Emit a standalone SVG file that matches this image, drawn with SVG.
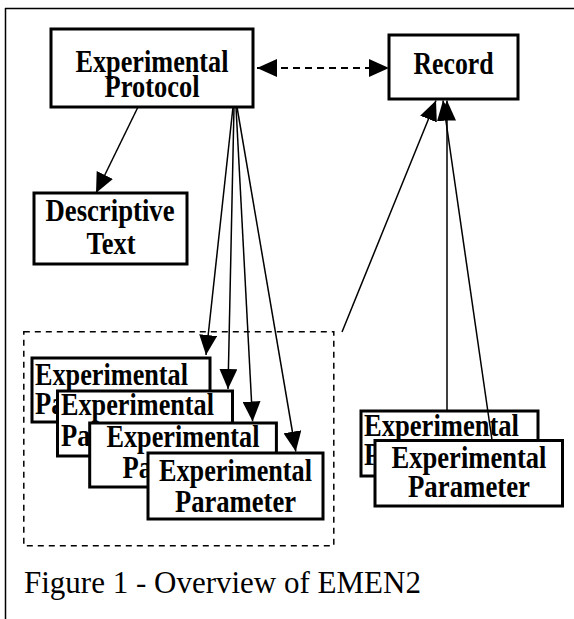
<svg xmlns="http://www.w3.org/2000/svg" width="574" height="619" viewBox="0 0 574 619">
<defs>
<marker id="ah" markerUnits="userSpaceOnUse" markerWidth="20" markerHeight="18" refX="20" refY="9" orient="auto-start-reverse" viewBox="0 0 20 18">
<path d="M0,0 L20,9 L0,18 z" fill="#000"/>
</marker>
<style>
.box{fill:#fff;stroke:#000;stroke-width:3}
.t{font-family:"Liberation Serif","Times New Roman",serif;font-weight:bold;font-size:31px;fill:#000}
.c{text-anchor:middle}
.arr{stroke:#000;stroke-width:1.5;fill:none;marker-end:url(#ah)}
</style>
</defs>
<rect width="574" height="619" fill="#fff"/>
<g id="frame">
<line x1="5" y1="8.5" x2="574" y2="8.5" stroke="#000" stroke-width="1.5"/>
<line x1="5.5" y1="8" x2="5.5" y2="619" stroke="#000" stroke-width="1.5"/>
</g>
<g id="protocol">
<rect class="box" x="51" y="29" width="202" height="78"/>
<text class="t c" x="152" y="72" textLength="153" lengthAdjust="spacingAndGlyphs">Experimental</text>
<text class="t c" x="152" y="97" textLength="95" lengthAdjust="spacingAndGlyphs">Protocol</text>
</g>
<g id="record">
<rect class="box" x="389" y="35" width="129" height="64"/>
<text class="t c" x="453.5" y="74" textLength="80" lengthAdjust="spacingAndGlyphs">Record</text>
</g>
<g id="descriptive">
<rect class="box" x="34" y="193" width="153" height="71"/>
<text class="t c" x="110" y="221" textLength="129" lengthAdjust="spacingAndGlyphs">Descriptive</text>
<text class="t c" x="111" y="254" textLength="49" lengthAdjust="spacingAndGlyphs">Text</text>
</g>
<g id="group">
<rect x="23.8" y="331.7" width="310" height="214" fill="none" stroke="#000" stroke-width="1.5" stroke-dasharray="6,5"/>
</g>
<g id="param1">
<rect class="box" x="32" y="358" width="178" height="64"/>
<text class="t" x="35" y="385" textLength="153" lengthAdjust="spacingAndGlyphs">Experimental</text>
<text class="t" x="35" y="414" textLength="121" lengthAdjust="spacingAndGlyphs">Parameter</text>
</g>
<g id="param2">
<rect class="box" x="57.5" y="391" width="175" height="65"/>
<text class="t" x="61" y="415" textLength="153" lengthAdjust="spacingAndGlyphs">Experimental</text>
<text class="t" x="61" y="446" textLength="121" lengthAdjust="spacingAndGlyphs">Parameter</text>
</g>
<g id="param3">
<rect class="box" x="89.7" y="423" width="186.7" height="64"/>
<text class="t c" x="183" y="447" textLength="153" lengthAdjust="spacingAndGlyphs">Experimental</text>
<text class="t c" x="183" y="478" textLength="121" lengthAdjust="spacingAndGlyphs">Parameter</text>
</g>
<g id="param4">
<rect class="box" x="148" y="453" width="175" height="66"/>
<text class="t c" x="235.5" y="481" textLength="153" lengthAdjust="spacingAndGlyphs">Experimental</text>
<text class="t c" x="235.5" y="512" textLength="121" lengthAdjust="spacingAndGlyphs">Parameter</text>
</g>
<g id="paramA">
<rect class="box" x="361" y="411" width="177" height="65"/>
<text class="t" x="364" y="436" textLength="155" lengthAdjust="spacingAndGlyphs">Experimental</text>
<text class="t" x="364" y="465" textLength="121" lengthAdjust="spacingAndGlyphs">Parameter</text>
</g>
<g id="paramB">
<rect class="box" x="375" y="440.5" width="187.5" height="65.5"/>
<text class="t c" x="469" y="468" textLength="155" lengthAdjust="spacingAndGlyphs">Experimental</text>
<text class="t c" x="469" y="497" textLength="122" lengthAdjust="spacingAndGlyphs">Parameter</text>
</g>
<g id="connectors">
<line x1="257" y1="68" x2="389" y2="68" stroke="#000" stroke-width="2" stroke-dasharray="7,5" marker-start="url(#ah)" marker-end="url(#ah)"/>
<line class="arr" x1="138" y1="107" x2="96" y2="193"/>
<line class="arr" x1="233" y1="107" x2="206" y2="355"/>
<line class="arr" x1="234" y1="107" x2="228" y2="389"/>
<line class="arr" x1="236" y1="107" x2="252.6" y2="421.5"/>
<line class="arr" x1="237" y1="107" x2="295.8" y2="451.5"/>
<line class="arr" x1="342" y1="332" x2="436" y2="100.5"/>
<line class="arr" x1="447" y1="411" x2="447" y2="100.5"/>
<line class="arr" x1="492" y1="440" x2="443" y2="100.5"/>
</g>
<text x="24" y="593" font-family="'Liberation Serif','Times New Roman',serif" font-size="31" fill="#000">Figure 1 - Overview of EMEN2</text>
</svg>
